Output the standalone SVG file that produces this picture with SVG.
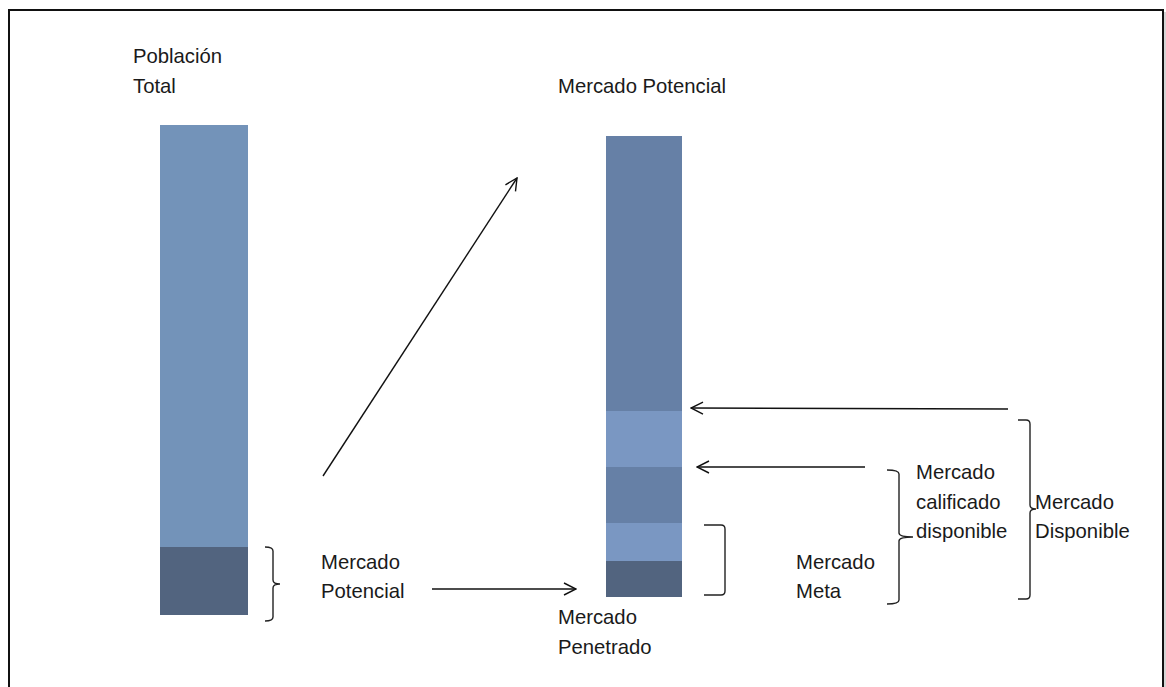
<svg xmlns="http://www.w3.org/2000/svg" width="1166" height="687" viewBox="0 0 1166 687">
<style>
text{font-family:"Liberation Sans",Arial,sans-serif;font-size:20.3px;fill:#1a1a1a}
.ln{fill:none;stroke:#111;stroke-width:1.4}
.br{fill:none;stroke:#222;stroke-width:1.4}
</style>
<defs>
<marker id="ah" viewBox="0 0 14 14" refX="13" refY="7" markerWidth="14" markerHeight="14" markerUnits="userSpaceOnUse" orient="auto">
<path d="M1,1 L13,7 L1,13" fill="none" stroke="#111" stroke-width="1.4"/>
</marker>
</defs>
<rect x="0" y="0" width="1166" height="687" fill="#fff"/>
<rect x="9" y="10" width="1154" height="700" fill="none" stroke="#111" stroke-width="2"/>
<line x1="1165" y1="12" x2="1165" y2="687" stroke="#aaa" stroke-width="1"/>

<g id="poblacion-total">
<rect x="160" y="125" width="88" height="422" fill="#7393B9"/>
<rect x="160" y="547" width="88" height="68" fill="#52647F"/>
<text x="133" y="63">Población</text>
<text x="133" y="93">Total</text>
</g>

<g id="mercado-potencial-bar">
<rect x="606" y="136" width="76" height="275" fill="#6680A6"/>
<rect x="606" y="411" width="76" height="56" fill="#7A97C2"/>
<rect x="606" y="467" width="76" height="56" fill="#6680A6"/>
<rect x="606" y="523" width="76" height="38" fill="#7A97C2"/>
<rect x="606" y="561" width="76" height="36" fill="#52647F"/>
<text x="558" y="93">Mercado Potencial</text>
</g>

<g id="mercado-potencial-label">
<path class="br" d="M265,547 Q273,547 273,551 L273,580 Q273,584 280,584 Q273,584 273,588 L273,617 Q273,621 265,621"/>
<text x="321" y="569">Mercado</text>
<text x="321" y="598">Potencial</text>
</g>

<g id="mercado-penetrado">
<text x="558" y="624">Mercado</text>
<text x="558" y="654">Penetrado</text>
</g>

<g id="mercado-meta">
<path class="br" d="M704,525 L721,525 Q725,525 725,529 L725,591 Q725,595 721,595 L704,595"/>
<text x="796" y="569">Mercado</text>
<text x="796" y="598">Meta</text>
</g>

<g id="mercado-calificado-disponible">
<path class="br" d="M887,470 Q899,470 899,474 L899,533 Q899,537 913,537 Q899,537 899,541 L899,600 Q899,604 887,604"/>
<text x="916" y="479">Mercado</text>
<text x="916" y="509">calificado</text>
<text x="916" y="538">disponible</text>
</g>

<g id="mercado-disponible">
<path class="br" d="M1018,420 L1026,420 Q1030,420 1030,424 L1030,505 Q1030,509 1036,509 Q1030,509 1030,513 L1030,595 Q1030,599 1026,599 L1018,599"/>
<text x="1035" y="509">Mercado</text>
<text x="1035" y="538">Disponible</text>
</g>

<g id="connectors">
<line class="ln" x1="323" y1="476" x2="517" y2="178" marker-end="url(#ah)"/>
<line class="ln" x1="432" y1="589" x2="576" y2="589" marker-end="url(#ah)"/>
<line class="ln" x1="1008" y1="409" x2="691" y2="408" marker-end="url(#ah)"/>
<line class="ln" x1="865" y1="467" x2="697" y2="467" marker-end="url(#ah)"/>
</g>
</svg>
